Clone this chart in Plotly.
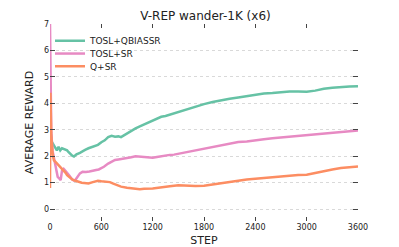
import plotly.graph_objects as go

steps_green = [0, 8, 20, 40, 60, 80, 100, 120, 140, 160, 180, 200, 215, 235, 260, 280, 310, 350, 380, 410, 450, 480, 510, 560, 600, 640, 680, 720, 760, 800, 830, 870, 900, 950, 1000, 1050, 1100, 1150, 1200, 1250, 1300, 1350, 1400, 1500, 1600, 1700, 1800, 1900, 2000, 2100, 2200, 2300, 2400, 2500, 2600, 2700, 2800, 2900, 3000, 3100, 3200, 3300, 3400, 3500, 3600]
vals_green = [4.5, 2.9, 2.55, 2.45, 2.3, 2.22, 2.36, 2.22, 2.3, 2.28, 2.25, 2.22, 2.16, 2.08, 2.02, 1.99, 2.07, 2.13, 2.2, 2.24, 2.3, 2.33, 2.37, 2.43, 2.53, 2.6, 2.72, 2.77, 2.74, 2.75, 2.72, 2.8, 2.88, 2.98, 3.05, 3.13, 3.2, 3.28, 3.36, 3.44, 3.49, 3.52, 3.57, 3.67, 3.78, 3.88, 3.97, 4.05, 4.12, 4.17, 4.22, 4.27, 4.33, 4.37, 4.39, 4.42, 4.45, 4.45, 4.44, 4.48, 4.55, 4.59, 4.62, 4.64, 4.65]

steps_pink = [0, 5, 15, 30, 50, 70, 90, 110, 125, 140, 160, 180, 200, 230, 260, 280, 300, 320, 350, 380, 420, 460, 500, 540, 570, 600, 630, 680, 720, 760, 800, 850, 900, 950, 1000, 1050, 1100, 1150, 1200, 1250, 1300, 1350, 1400, 1450, 1500, 1600, 1700, 1800, 1900, 2000, 2100, 2200, 2300, 2400, 2500, 2600, 2700, 2800, 2900, 3000, 3100, 3200, 3300, 3400, 3500, 3600]
vals_pink = [7.0, 4.5, 2.9, 2.2, 1.85, 1.5, 1.22, 1.15, 1.1, 1.45, 1.52, 1.45, 1.38, 1.25, 1.12, 1.08, 1.12, 1.22, 1.35, 1.41, 1.4, 1.42, 1.46, 1.48, 1.5, 1.55, 1.6, 1.72, 1.8, 1.86, 1.88, 1.9, 1.94, 1.96, 2.0, 1.98, 1.97, 1.96, 1.94, 1.97, 2.0, 2.02, 2.05, 2.06, 2.09, 2.16, 2.23, 2.28, 2.34, 2.42, 2.48, 2.54, 2.56, 2.61, 2.64, 2.68, 2.71, 2.75, 2.77, 2.79, 2.82, 2.85, 2.88, 2.91, 2.94, 2.97]

steps_orange = [0, 5, 15, 30, 45, 60, 80, 100, 120, 150, 180, 200, 230, 260, 290, 330, 370, 400, 450, 500, 560, 600, 650, 700, 740, 780, 830, 900, 950, 1000, 1050, 1100, 1200, 1300, 1400, 1500, 1600, 1700, 1800, 1900, 2000, 2100, 2200, 2300, 2400, 2500, 2600, 2700, 2800, 2900, 3000, 3100, 3200, 3300, 3400, 3500, 3600]
vals_orange = [0.8, 4.4, 2.8, 2.1, 1.85, 1.8, 1.72, 1.65, 1.6, 1.48, 1.38, 1.28, 1.18, 1.12, 1.08, 1.03, 1.0, 0.99, 0.97, 1.02, 1.07, 1.05, 1.04, 1.02, 0.96, 0.9, 0.85, 0.81, 0.78, 0.77, 0.75, 0.77, 0.78, 0.81, 0.86, 0.9, 0.88, 0.87, 0.88, 0.93, 0.98, 1.03, 1.09, 1.12, 1.15, 1.18, 1.2, 1.23, 1.27, 1.29, 1.3, 1.37, 1.44, 1.5, 1.55, 1.58, 1.61]

names = ["TOSL+QBIASSR", "TOSL+SR", "Q+SR"]
colors = ["#66c2a5", "#e78ac3", "#fc8d62"]

x_ticks = [0, 600, 1200, 1800, 2400, 3000, 3600]
y_ticks = [0, 1, 2, 3, 4, 5, 6, 7]

font = "DejaVu Sans"
legend_ids = ["legend", "legend2", "legend3"]
legend_y = [0.915, 0.85, 0.786]

fig = go.Figure()
series = [(steps_green, vals_green), (steps_pink, vals_pink), (steps_orange, vals_orange)]
for i, (xs, ys) in enumerate(series):
    fig.add_trace(go.Scatter(x=xs, y=ys, mode="lines", name=names[i],
                             line=dict(color=colors[i], width=2.5),
                             legend=legend_ids[i]))

legend_common = dict(x=0.0, xanchor="left", yanchor="middle",
                     font=dict(size=9, family=font, color="#222"),
                     bgcolor="rgba(0,0,0,0)", itemwidth=30)

# The page body has an 8px margin, so the figure is sized to fit the 399x247 window.
fig.update_layout(
    width=391, height=239,
    margin=dict(l=42, r=41, t=16, b=26, autoexpand=False),
    paper_bgcolor="white", plot_bgcolor="white",
    font=dict(family=font, color="#222", size=8),
    title=dict(text="V-REP wander-1K (x6)", x=0.505, xanchor="center",
               y=1 - 7.5 / 239, yanchor="middle", font=dict(size=12, family=font, color="#222")),
    showlegend=True,
    legend=dict(y=legend_y[0], **legend_common),
    legend2=dict(y=legend_y[1], **legend_common),
    legend3=dict(y=legend_y[2], **legend_common),
    xaxis=dict(range=[0, 3600], tickvals=x_ticks, ticktext=[str(v) for v in x_ticks],
               ticks="inside", ticklen=4, tickcolor="#444", tickwidth=1,
               mirror="ticks", showline=False, showgrid=False, zeroline=False,
               automargin=False,
               title=dict(text="STEP", font=dict(size=11, family=font, color="#222"), standoff=9)),
    yaxis=dict(range=[-0.45, 7], tickvals=y_ticks, ticktext=[str(v) for v in y_ticks],
               ticks="inside", ticklen=5, tickcolor="#444", tickwidth=1.3,
               mirror="ticks", showline=False, showgrid=True, gridcolor="#d9d9d9",
               griddash="dot", gridwidth=1, zeroline=False,
               automargin=False,
               title=dict(text="AVERAGE REWARD", font=dict(size=11, family=font, color="#222"), standoff=8)),
)

fig.write_html("out.html")
